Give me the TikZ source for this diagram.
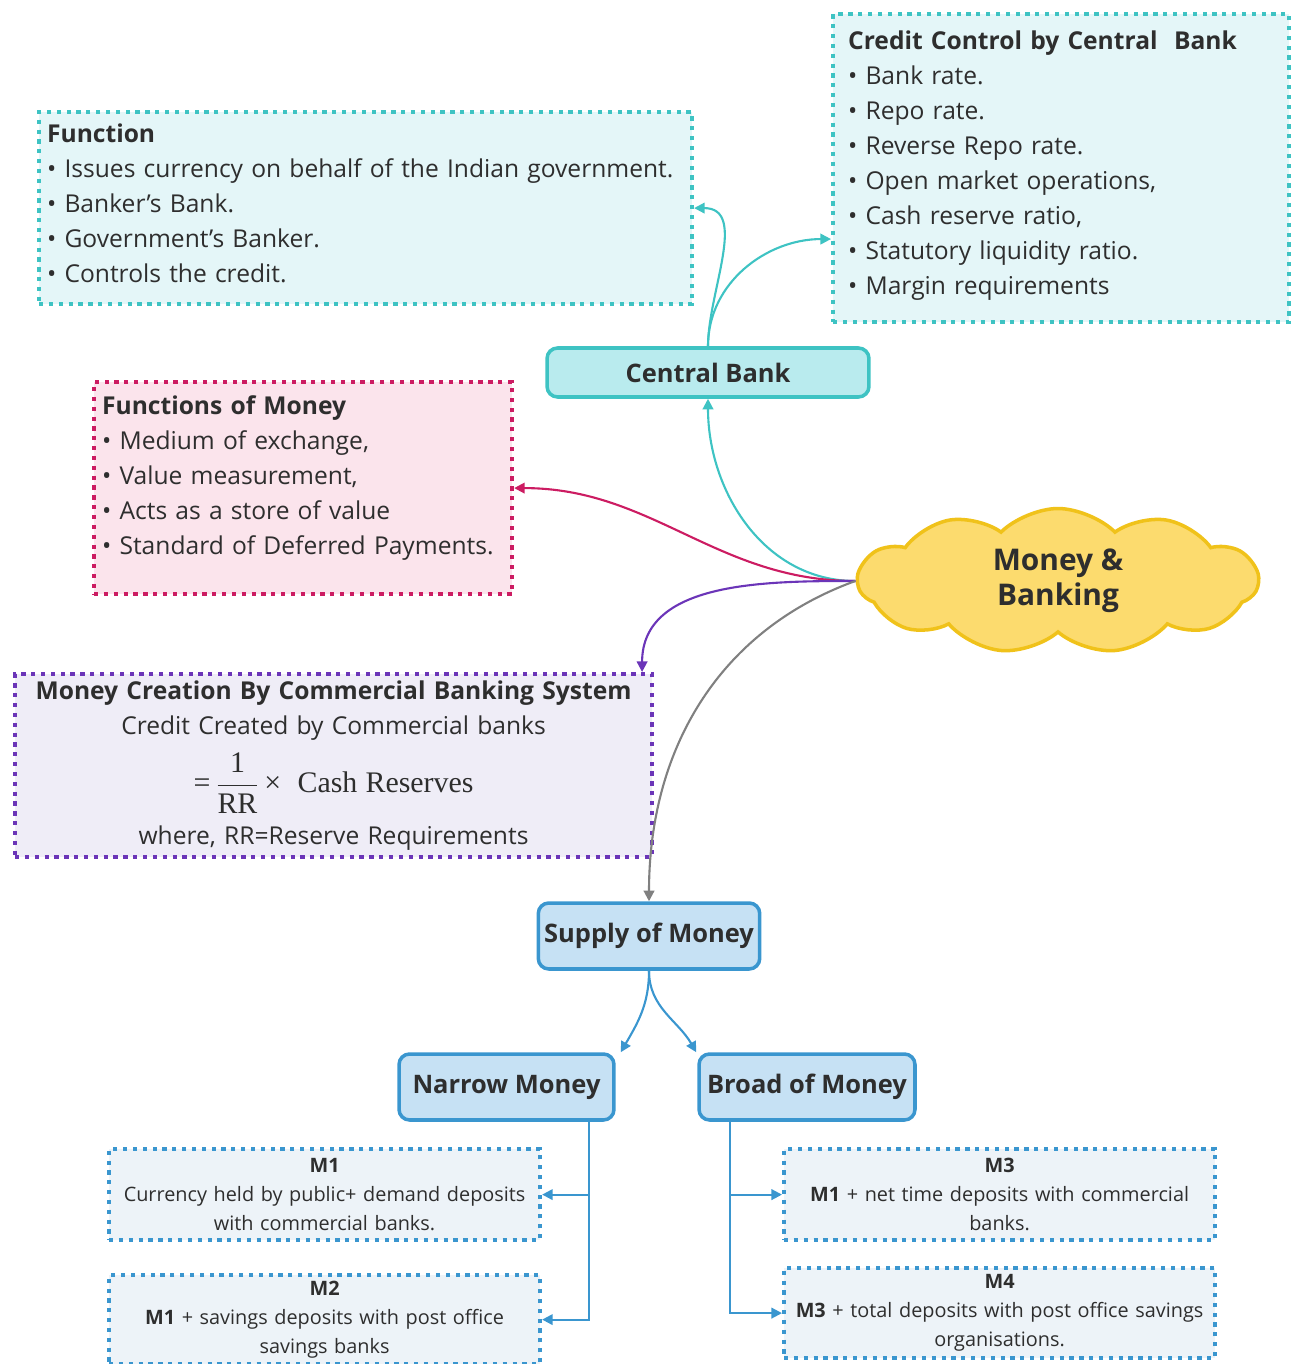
\documentclass[tikz,border=0pt]{standalone}
\usepackage{fontspec}
\setmainfont{Open Sans}
\newfontfamily\tnr{Liberation Serif}
\usetikzlibrary{arrows.meta, positioning, shapes.symbols}

\definecolor{tealline}{HTML}{3EC3C3}
\definecolor{tealfill}{HTML}{E4F6F8}
\definecolor{cbfill}{HTML}{B9EBEE}
\definecolor{magline}{HTML}{CC1C62}
\definecolor{magfill}{HTML}{FBE4EC}
\definecolor{purline}{HTML}{6B35B8}
\definecolor{purfill}{HTML}{EFEDF7}
\definecolor{blueline}{HTML}{3A96CF}
\definecolor{bluefill}{HTML}{C6E1F4}
\definecolor{mfill}{HTML}{EDF3F8}
\definecolor{cloudfill}{HTML}{FCDB6E}
\definecolor{cloudline}{HTML}{F0C21A}
\definecolor{txt}{HTML}{2E2E2E}

\begin{document}
\begin{tikzpicture}[
    x=0.02cm, y=-0.02cm,
    font=\fontsize{14}{19.9}\selectfont,
    text=txt,
    dotbox/.style={
      draw,
      line width=2.4pt,
      dash pattern=on 2.4pt off 3.2pt,
      anchor=north west,
      align=left,
      inner xsep=0.16cm,
      inner ysep=0pt
    },
    mbox/.style={
      dotbox,
      draw=blueline,
      fill=mfill,
      align=center,
      inner xsep=0.01cm,
      text width=8.6cm,
      font=\fontsize{11.3}{16.5}\selectfont
    },
    topic/.style={
      draw,
      line width=2pt,
      rounded corners=6pt,
      align=center,
      font=\fontsize{14.5}{17}\selectfont\bfseries
    },
    line/.style={-{Triangle[length=6pt, width=6pt]}, line width=1.2pt}
  ]
  \useasboundingbox (0,0) rectangle (1293,1364);

  % ===================== centre =====================
  \node[cloud, cloud puffs=11, cloud puff arc=90, aspect=2.5,
        draw=cloudline, fill=cloudfill, line width=2pt,
        minimum width=8.0cm, minimum height=2.9cm, inner sep=0pt,
        align=center, font=\fontsize{17}{20}\selectfont\bfseries]
        (mb) at (1058,581) {Money \&\\Banking};

  % ===================== central bank =====================
  \node[topic, draw=tealline, fill=cbfill, minimum width=6.44cm, minimum height=0.98cm]
        (cb) at (708,372.5) {Central Bank};

  \node[dotbox, draw=tealline, fill=tealfill, text width=12.74cm, minimum height=3.84cm]
        (fn) at (37,110) {\textbf{Function}\\
        • Issues currency on behalf of the Indian government.\\
        • Banker's Bank.\\
        • Government's Banker.\\
        • Controls the credit.\vspace{0.2cm}};

  \node[dotbox, draw=tealline, fill=tealfill, inner xsep=0.3cm, text width=8.52cm, minimum height=6.16cm]
        (cc) at (831,12) {\textbf{Credit Control by Central\ \ Bank}\\
        • Bank rate.\\
        • Repo rate.\\
        • Reverse Repo rate.\\
        • Open market operations,\\
        • Cash reserve ratio,\\
        • Statutory liquidity ratio.\\
        • Margin requirements\vspace{0.1cm}};

  % ===================== functions of money =====================
  \node[dotbox, draw=magline, fill=magfill, text width=8.04cm, minimum height=4.24cm]
        (fm) at (92,380) {\textbf{Functions of Money}\\
        • Medium of exchange,\\
        • Value measurement,\\
        • Acts as a store of value\\
        • Standard of Deferred Payments.\vspace{0.4cm}};

  % ===================== money creation =====================
  \node[dotbox, draw=purline, fill=purfill, align=center, text width=12.42cm, minimum height=3.66cm]
        (mc) at (13,672) {\textbf{Money Creation By Commercial Banking System}\\
        Credit Created by Commercial banks\\[6pt]
        {\tnr\fontsize{17}{20}\selectfont =\,$\displaystyle{\mbox{1}\over\mbox{RR}}$\,×\ \ Cash Reserves}\\[6pt]
        where, RR=Reserve Requirements};

  % ===================== supply of money =====================
  \node[topic, draw=blueline, fill=bluefill, minimum width=4.32cm, minimum height=1.32cm]
        (sm) at (649,936) {Supply of Money};
  \node[topic, draw=blueline, fill=bluefill, minimum width=4.3cm, minimum height=1.32cm]
        (nm) at (506.5,1087) {Narrow Money};
  \node[topic, draw=blueline, fill=bluefill, minimum width=4.32cm, minimum height=1.32cm]
        (bm) at (807,1087) {Broad of Money};

  \node[mbox, minimum height=1.82cm] (m1) at (107,1147)
        {\textbf{M1}\\Currency held by public+ demand deposits\\with commercial banks.};
  \node[mbox, minimum height=1.78cm] (m2) at (107,1273)
        {\textbf{M2}\\\textbf{M1} + savings deposits with post office\\savings banks};
  \node[mbox, minimum height=1.82cm] (m3) at (782,1147)
        {\textbf{M3}\\\textbf{M1} + net time deposits with commercial\\banks.};
  \node[mbox, minimum height=1.8cm] (m4) at (782,1266)
        {\textbf{M4}\\\textbf{M3} + total deposits with post office savings\\organisations.};

  % ===================== connectors from centre =====================
  \draw[line, tealline] (mb.west) to[out=180, in=-90] (cb.south);
  \draw[line, tealline] (cb.north) to[out=90, in=0] (fn.east);
  \draw[line, tealline] (cb.north) to[out=90, in=180] ([yshift=-1.42cm]cc.west);
  \draw[line, magline] (mb.west) to[out=180, in=0] (fm.east);
  \draw[line, purline] (mb.west) to[out=180, in=90] ([xshift=-0.24cm]mc.north east);
  \draw[line, gray] (mb.west) to[out=200, in=90] (sm.north);

  % ===================== money supply tree =====================
  \draw[line, blueline] (sm.south) to[out=-90, in=60] ([xshift=0.1cm]nm.north east);
  \draw[line, blueline] (sm.south) to[out=-90, in=120] ([xshift=-0.02cm]bm.north west);

  \draw[line, blueline] ([xshift=-0.54cm]nm.south east) |- (m1.east);
  \draw[line, blueline] ([xshift=-0.54cm]nm.south east) |- (m2.east);
  \draw[line, blueline] ([xshift=0.66cm]bm.south west) |- (m3.west);
  \draw[line, blueline] ([xshift=0.66cm]bm.south west) |- (m4.west);

\end{tikzpicture}
\end{document}
